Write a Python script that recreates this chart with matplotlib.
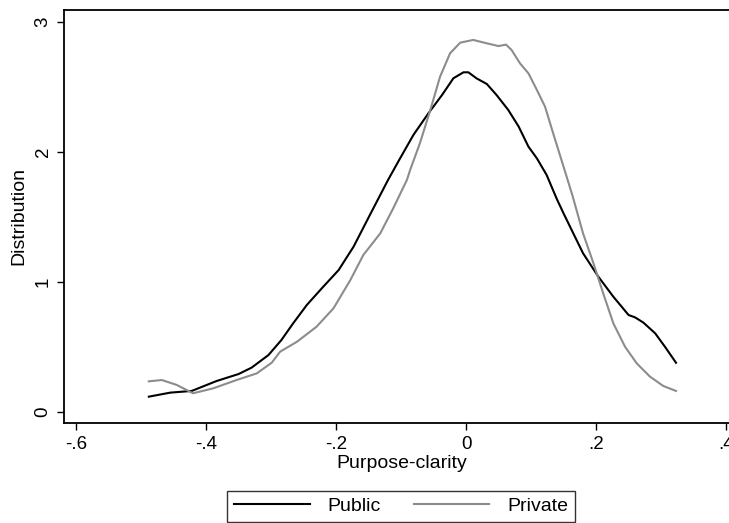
import matplotlib
matplotlib.use("Agg")
import matplotlib.pyplot as plt
import numpy as np

# kernel density values
public_x = [-0.488, -0.455, -0.422, -0.384, -0.350, -0.330, -0.304, -0.284, -0.266,
            -0.245, -0.222, -0.196, -0.173, -0.148, -0.120, -0.1015, -0.081, -0.058,
            -0.037, -0.0195, -0.004, 0.0036, 0.016, 0.032, 0.047, 0.065, 0.081, 0.096,
            0.109, 0.124, 0.1395, 0.150, 0.165, 0.180, 0.2035, 0.2266, 0.250, 0.260,
            0.273, 0.291, 0.306, 0.323]
public_y = [0.118, 0.149, 0.162, 0.238, 0.292, 0.341, 0.438, 0.554, 0.682,
            0.823, 0.951, 1.092, 1.272, 1.515, 1.785, 1.951, 2.131, 2.297,
            2.438, 2.567, 2.613, 2.613, 2.567, 2.523, 2.438, 2.323, 2.195, 2.041,
            1.951, 1.823, 1.640, 1.528, 1.374, 1.221, 1.041, 0.887, 0.746, 0.728,
            0.687, 0.605, 0.502, 0.379]

private_x = [-0.488, -0.468, -0.445, -0.420, -0.389, -0.353, -0.322, -0.299, -0.286,
             -0.260, -0.230, -0.204, -0.178, -0.158, -0.132, -0.112, -0.091, -0.086,
             -0.071, -0.055, -0.040, -0.0246, -0.009, 0.011, 0.032, 0.050, 0.0615,
             0.070, 0.083, 0.096, 0.109, 0.1215, 0.134, 0.150, 0.164, 0.180, 0.196,
             0.211, 0.2266, 0.2446, 0.2626, 0.283, 0.3035, 0.323]
private_y = [0.236, 0.246, 0.208, 0.144, 0.182, 0.246, 0.297, 0.379, 0.464,
             0.541, 0.656, 0.797, 1.015, 1.208, 1.374, 1.567, 1.785, 1.862,
             2.067, 2.323, 2.579, 2.759, 2.841, 2.862, 2.836, 2.815, 2.826,
             2.785, 2.682, 2.605, 2.477, 2.349, 2.144, 1.887, 1.660, 1.374, 1.144,
             0.913, 0.682, 0.502, 0.374, 0.272, 0.200, 0.162]

xticks = [-0.6, -0.4, -0.2, 0, 0.2, 0.4]
xticklabels = ["-.6", "-.4", "-.2", "0", ".2", ".4"]
yticks = [0, 1, 2, 3]

plt.rcParams['font.family'] = ['Liberation Sans', 'DejaVu Sans']

fig = plt.figure(figsize=(7.29, 5.23), dpi=100)
ax = fig.add_axes([0.0878, 0.1912, 0.926, 0.7906])

ln1, = ax.plot(public_x, public_y, color='black', lw=1.5, label='Public',
               solid_joinstyle='round')
ln2, = ax.plot(private_x, private_y, color='#8c8c8c', lw=1.5, label='Private',
               solid_joinstyle='round')

ax.set_xlim(-0.6185, 0.42)
ax.set_ylim(-0.0846, 3.096)
ax.set_xticks(xticks)
ax.set_xticklabels(xticklabels)
ax.set_yticks(yticks)
ax.set_yticklabels([str(v) for v in yticks], rotation=90, va='center')
ax.tick_params(direction='out', length=5, width=1.0, labelsize=13.5, pad=4)
for s in ax.spines.values():
    s.set_linewidth(1.3)

ax.set_xlabel('Purpose-clarity', fontsize=14, labelpad=2)
ax.set_ylabel('Distribution', fontsize=14, labelpad=5)

leg = fig.legend(handles=[ln1, ln2], ncol=2, loc='lower center',
                 bbox_to_anchor=(0.550, 0.0), fontsize=14, frameon=True,
                 fancybox=False, edgecolor='black', handlelength=3.9,
                 handletextpad=0.9, columnspacing=1.7, borderpad=0.35,
                 borderaxespad=0.05)
leg.get_frame().set_linewidth(1.0)

fig.savefig('out.png', dpi=100)
